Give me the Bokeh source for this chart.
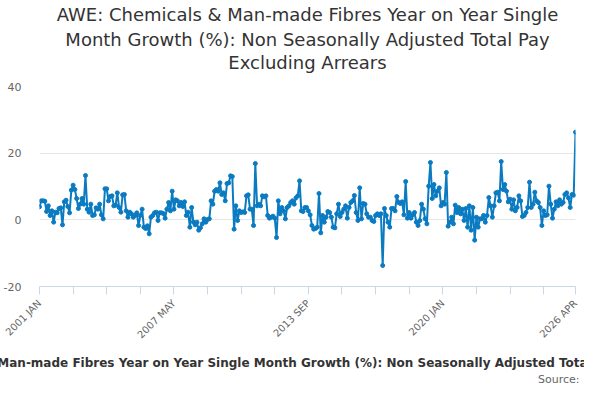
import math
import pandas as pd
from bokeh.plotting import figure
from bokeh.models import Range1d, FixedTicker, Title
from bokeh.embed import file_html
from bokeh.resources import INLINE

title_lines = [
    "AWE: Chemicals & Man-made Fibres Year on Year Single",
    "Month Growth (%): Non Seasonally Adjusted Total Pay",
    "Excluding Arrears",
]
x_axis_title = ("AWE: Chemicals & Man-made Fibres Year on Year Single Month Growth (%): "
                "Non Seasonally Adjusted Total Pay Excluding Arrears")
source_text = "Source:"
start_month = "2001-01"

growth_2001_2008 = [
    3.9, 5.7, 5.7, 5.6, 2.5, 4.2, 1.3, 2.7, -0.7, 2.3,
    2.1, 3.4, 3.6, -1.5, 5.4, 5.9, 4.0, 2.1, 8.9, 10.4,
    9.1, 6.4, 3.4, 4.7, 6.4, 4.7, 13.3, 3.2, 2.3, 4.7,
    1.3, 1.5, 3.6, 3.2, 4.7, 1.5, 0.3, 9.3, 9.3, 5.7,
    7.0, 7.2, 4.2, 4.4, 8.1, 3.7, 2.3, 7.5, 7.6, 2.7,
    0.8, 2.3, 1.8, 0.8, 1.3, 2.1, -1.7, 1.3, 3.2, -2.2,
    -2.6, -1.8, -4.2, 0.8, 1.3, 2.1, 2.3, -0.2, 2.1, 2.1,
    1.9, 0.5, 3.2, 5.2, 2.7, 8.6, 3.2, 6.0, 5.7, 4.2,
    5.2, 4.0, 5.4, 1.3, 2.3,
]
growth_2008_2014 = [
    -2.2, 3.7, -0.7, -1.5, -0.7, -3.1, -2.4, -1.2, 0.3, -0.7,
    0.1, 0.3, 5.7, 4.7, 8.6, 9.1, 8.6, 11.1, 7.6, 8.1,
    5.7, 10.9, 11.1, 13.2, 13.0, -2.8, 4.2, -0.2, 2.7, 2.2,
    2.4, 2.2, 7.2, 7.5, 3.2, 3.2, -1.7, 16.9, 4.2, 4.7,
    4.2, 7.2, 6.9, 7.2, 1.3, 0.5, 0.8, 1.1, 0.5, -5.3,
    5.7, 1.8, 3.7, 2.7, 0.3, 3.7, 4.2, 5.2, 5.7, 4.7,
    6.6, 7.2, 11.7, 2.7, 2.5, 3.7, 3.7, 2.7, 1.5, -1.7,
    -2.8, -2.6, -2.2, 7.9,
]
growth_2014_2017 = [
    -3.9, 1.3, -0.7, 0.8, 2.5, 2.2, 0.8, -2.2, -2.4, 1.8,
    4.7, 1.0, 2.2, 3.2, 4.2, 0.5, 3.7, 5.2, 5.7, 7.3,
    2.2, -0.2, 9.6, 0.3, 4.9, 4.7, 1.8, 0.8, 0.8, -0.2,
    -0.5, 1.3, 1.8, 1.3, 1.8, -13.7, 3.4, 1.3, -0.7, -2.2,
]
growth_2017_2026 = [
    3.4, 3.4, 2.7, 7.0, 5.2, 4.9, 5.4, 1.5,
    11.5, 0.5, 2.2, 0.5, 1.5, 2.2, -0.7, -1.7, -0.2, 4.7, 3.2, 0.3, -1.2, 10.1,
    17.2, 6.4, 10.6, 7.2, 8.6, 9.6, 4.2, 5.2, 4.7,
    14.2, -1.9, -0.7, 0.8, -1.2, 4.4, 2.2, 3.7, 1.8, 3.2, -0.2, 3.4, -2.2, 4.2, -3.1, 3.7, -6.1,
    0.8, -2.2, 0.3, 0.3, 1.3, -0.7, 1.3, 6.7, 4.2, 0.8, 4.2,
    8.1, 8.3, 5.7, 17.5,
    9.1, 10.6, 8.6, 5.4, 6.2, 3.2, 6.0, 2.7, 3.7, 7.2, 5.7, 1.0, 1.3, 2.2, 3.7, 11.3,
    3.7, 4.7, 8.3, 5.7, 5.2, 3.7, -1.7, 2.7, 1.3, 1.5, 10.1, 4.7, 0.5, 3.2, 5.4, 4.2,
    6.0, 4.7, 5.2, 7.6, 8.1, 6.6, 3.7, 7.6, 7.4, 26.3,
]
growth = growth_2001_2008 + growth_2008_2014 + growth_2014_2017 + growth_2017_2026

labelled_months = ["2001 JAN", "2007 MAY", "2013 SEP", "2020 JAN", "2026 APR"]
y_ticks = [-20, 0, 20, 40]
tick_every_months = 19

periods = pd.period_range(start_month, periods=len(growth), freq="M")
month_names = [f"{q.year} {q.strftime('%b').upper()}" for q in periods]
idx = list(range(len(growth)))

BLUE = "#0b7bc1"
FONT = "DejaVu Sans"

p = figure(width=584, height=384, output_backend="svg", toolbar_location=None,
           x_range=Range1d(0, len(growth) - 1), y_range=Range1d(y_ticks[0], y_ticks[-1]),
           min_border_left=35, min_border_right=9, min_border_top=0, min_border_bottom=0)
p.title = None
p.outline_line_color = None
p.background_fill_color = "white"
p.border_fill_color = "white"

# spacer between frame and title block
p.add_layout(Title(text=" ", text_font_size="1px", standoff=11), "above")
title_standoffs = [0, 0, 3]  # line 3, line 2, line 1
for line, so in zip(reversed(title_lines), title_standoffs):
    t = Title(text=line, align="center", text_font=FONT, text_font_size="18px",
              text_font_style="normal", text_color="#333333", standoff=so)
    p.add_layout(t, "above")

p.line(idx, growth, line_color=BLUE, line_width=2)
p.scatter(idx, growth, size=4, color=BLUE)

tick_idx = list(range(0, len(growth), tick_every_months))
if len(growth) - 1 - tick_idx[-1] < 10:
    tick_idx[-1] = len(growth) - 1
else:
    tick_idx.append(len(growth) - 1)

xa = p.xaxis[0]
xa.ticker = FixedTicker(ticks=tick_idx)
xa.major_label_overrides = {i: (month_names[i] if month_names[i] in labelled_months else "")
                            for i in tick_idx}
xa.major_label_orientation = math.pi / 4
xa.major_label_text_font = FONT
xa.major_label_text_font_size = "10px"
xa.major_label_text_color = "#666666"
xa.axis_line_color = "#ccd6eb"
xa.major_tick_line_color = "#ccd6eb"
xa.major_tick_out = 8
xa.major_tick_in = 0
xa.minor_tick_line_color = None
xa.major_label_standoff = 7

ya = p.yaxis[0]
ya.ticker = FixedTicker(ticks=y_ticks)
ya.major_label_overrides = {v: str(v) for v in y_ticks}
ya.axis_line_color = None
ya.major_tick_line_color = None
ya.minor_tick_line_color = None
ya.major_label_text_font = FONT
ya.major_label_text_font_size = "11px"
ya.major_label_text_color = "#666666"
ya.major_label_standoff = 12

p.xgrid.grid_line_color = None
p.ygrid.grid_line_color = "#e6e6e6"

p.add_layout(Title(text=" ", text_font_size="1px", standoff=1), "below")
p.add_layout(Title(text=x_axis_title, align="center", text_font=FONT, text_font_size="12px",
                   text_font_style="bold", text_color="#333333", standoff=4), "below")
p.add_layout(Title(text=source_text, align="right", text_font=FONT, text_font_size="11px",
                   text_font_style="normal", text_color="#666666", standoff=-2,
                   offset=-4), "below")

open("out.html", "w").write(file_html(p, INLINE))
